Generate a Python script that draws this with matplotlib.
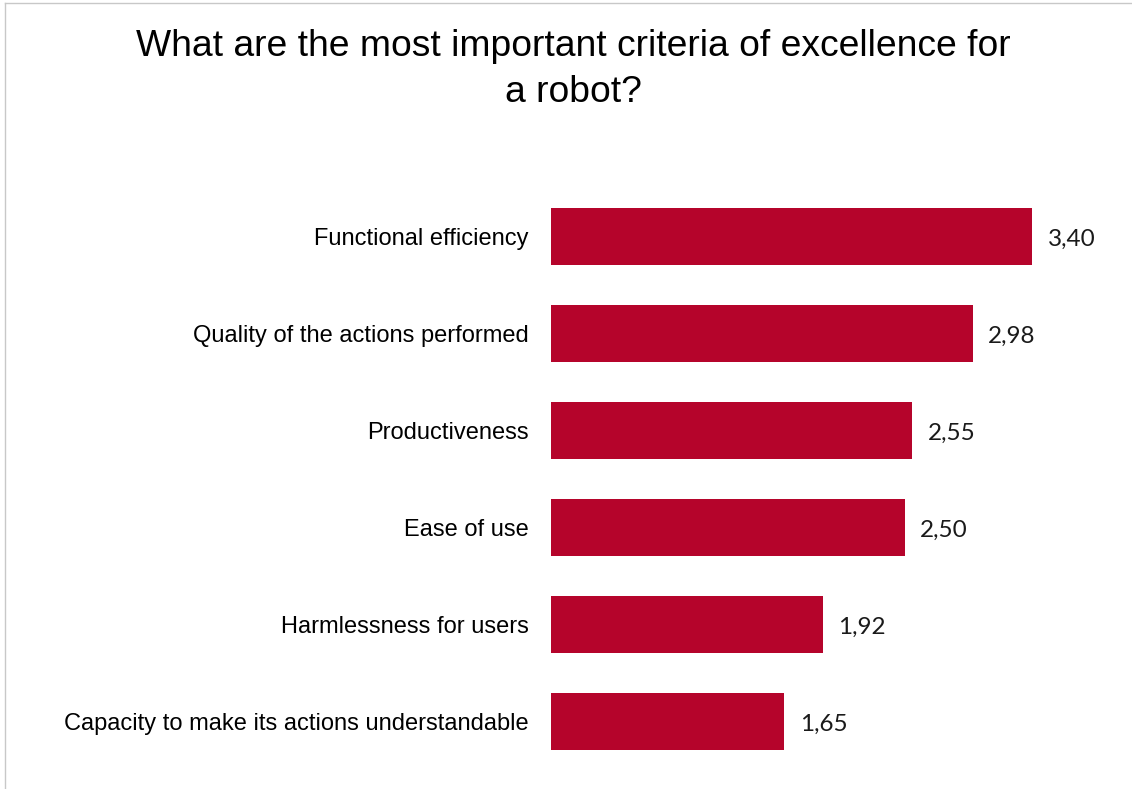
import matplotlib
matplotlib.use("Agg")
import matplotlib.pyplot as plt
from matplotlib.lines import Line2D

criteria = [
    "Functional efficiency",
    "Quality of the actions performed",
    "Productiveness",
    "Ease of use",
    "Harmlessness for users",
    "Capacity to make its actions understandable",
]
scores = [3.40, 2.98, 2.55, 2.50, 1.92, 1.65]

BAR_COLOR = "#B5042B"
W, H = 1132, 789

fig = plt.figure(figsize=(W / 100, H / 100), dpi=100)
ax = fig.add_axes([551 / W, 1 - 770 / H, 566 / W, 582 / H])

ypos = list(range(len(criteria)))
ax.barh(ypos, scores, height=0.59, color=BAR_COLOR)
ax.set_xlim(0, 4.0)
ax.set_ylim(len(criteria) - 0.5, -0.5)

for y, v in zip(ypos, scores):
    ax.text(v + 0.11, y + 0.03, f"{v:.2f}".replace(".", ","), va="center", ha="left",
            fontsize=17.5, family=["Lato", "DejaVu Sans"], color="#1a1a1a")

ax.set_yticks(ypos)
ax.set_yticklabels(criteria, fontsize=17, family="Liberation Sans")
ax.tick_params(axis="y", length=0, pad=16)
ax.set_xticks([])
for s in ax.spines.values():
    s.set_visible(False)

fig.text(573 / W, 1 - 46 / H, "What are the most important criteria of excellence for",
         ha="center", va="center", fontsize=26.8, family="Liberation Sans")
fig.text(573 / W, 1 - 92 / H, "a robot?",
         ha="center", va="center", fontsize=26.8, family="Liberation Sans")

# thin frame along the top and left edges
fig.add_artist(Line2D([5 / W, 1], [1 - 3 / H, 1 - 3 / H], color="#C8C8C8", lw=1))
fig.add_artist(Line2D([5 / W, 5 / W], [0, 1 - 3 / H], color="#C8C8C8", lw=1))

fig.savefig("out.png", dpi=100)
